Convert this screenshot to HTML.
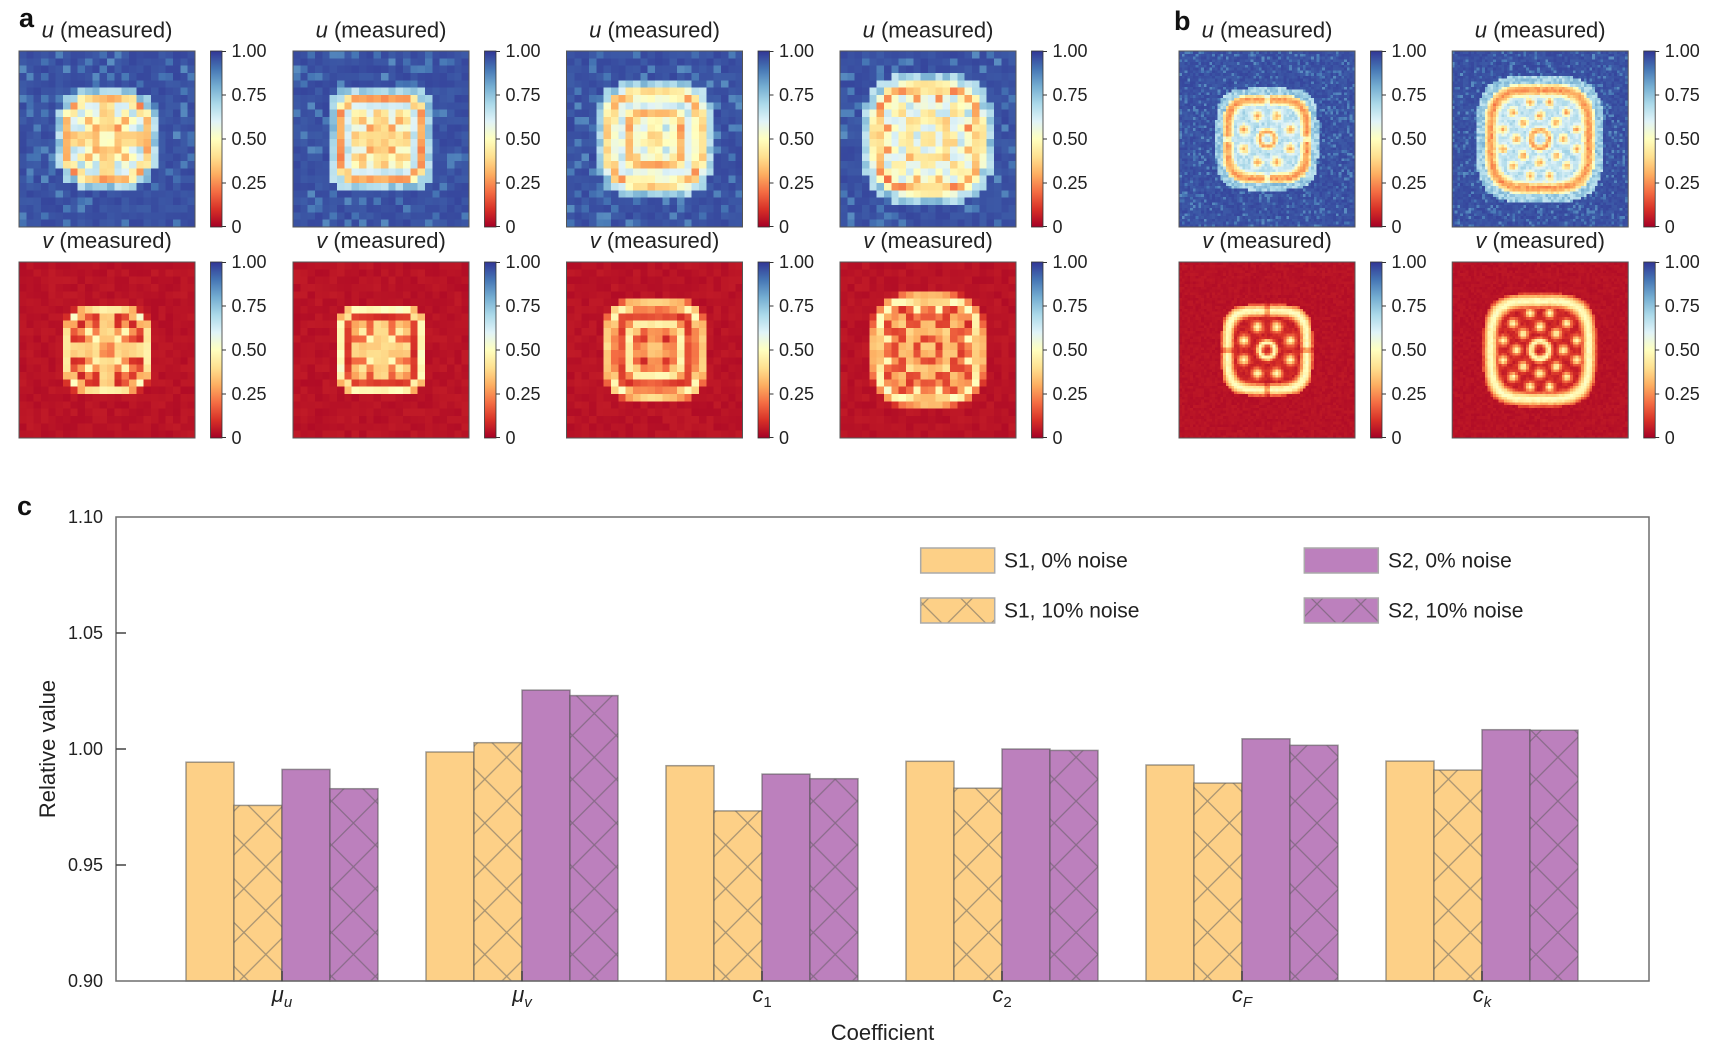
<!DOCTYPE html>
<html><head><meta charset="utf-8">
<style>
html,body{margin:0;padding:0;background:#fff;}
body{width:1719px;height:1058px;position:relative;overflow:hidden;font-family:"Liberation Sans",sans-serif;}
canvas{position:absolute;width:176px;height:176px;image-rendering:pixelated;}
svg{position:absolute;left:0;top:0;}
</style></head><body>
<canvas id="a1u" width="24" height="24" style="left:19px;top:51px"></canvas>
<canvas id="a2u" width="24" height="24" style="left:293px;top:51px"></canvas>
<canvas id="a3u" width="24" height="24" style="left:566.5px;top:51px"></canvas>
<canvas id="a4u" width="24" height="24" style="left:840px;top:51px"></canvas>
<canvas id="b1u" width="64" height="64" style="left:1179px;top:51px"></canvas>
<canvas id="b2u" width="64" height="64" style="left:1452.2px;top:51px"></canvas>
<canvas id="a1v" width="24" height="24" style="left:19px;top:262px"></canvas>
<canvas id="a2v" width="24" height="24" style="left:293px;top:262px"></canvas>
<canvas id="a3v" width="24" height="24" style="left:566.5px;top:262px"></canvas>
<canvas id="a4v" width="24" height="24" style="left:840px;top:262px"></canvas>
<canvas id="b1v" width="64" height="64" style="left:1179px;top:262px"></canvas>
<canvas id="b2v" width="64" height="64" style="left:1452.2px;top:262px"></canvas>

<svg width="1719" height="1058" viewBox="0 0 1719 1058" font-family="Liberation Sans, sans-serif" fill="#222">
<defs>
<linearGradient id="cm" x1="0" y1="1" x2="0" y2="0">
<stop offset="0" stop-color="#a50026"/><stop offset="0.1" stop-color="#d73027"/><stop offset="0.2" stop-color="#f46d43"/><stop offset="0.3" stop-color="#fdae61"/><stop offset="0.4" stop-color="#fee090"/><stop offset="0.5" stop-color="#ffffbf"/><stop offset="0.6" stop-color="#e0f3f8"/><stop offset="0.7" stop-color="#abd9e9"/><stop offset="0.8" stop-color="#74add1"/><stop offset="0.9" stop-color="#4575b4"/><stop offset="1" stop-color="#313695"/>
</linearGradient>
<pattern id="hy" patternUnits="userSpaceOnUse" width="43.8" height="43.8" x="24.9" y="12.7">
<rect width="43.8" height="43.8" fill="#FDD087"/>
<path d="M-2,-2L45.8,45.8M45.8,-2L-2,45.8" stroke="rgba(95,95,95,0.55)" stroke-width="1.3" fill="none"/>
</pattern>
<pattern id="hp" patternUnits="userSpaceOnUse" width="43.8" height="43.8" x="24.9" y="12.7">
<rect width="43.8" height="43.8" fill="#BC80BD"/>
<path d="M-2,-2L45.8,45.8M45.8,-2L-2,45.8" stroke="rgba(85,85,85,0.5)" stroke-width="1.3" fill="none"/>
</pattern>
</defs>

<!-- panel letters -->
<text x="19" y="27" font-size="27" font-weight="bold" fill="#111">a</text>
<text x="1174" y="30" font-size="27" font-weight="bold" fill="#111">b</text>
<text x="17" y="515" font-size="27" font-weight="bold" fill="#111">c</text>

<!-- heatmap frames -->
<g fill="none" stroke="#555" stroke-width="1">
<rect x="19" y="51" width="176" height="176"/><rect x="293" y="51" width="176" height="176"/><rect x="566.5" y="51" width="176" height="176"/><rect x="840" y="51" width="176" height="176"/><rect x="1179" y="51" width="176" height="176"/><rect x="1452.2" y="51" width="176" height="176"/>
<rect x="19" y="262" width="176" height="176"/><rect x="293" y="262" width="176" height="176"/><rect x="566.5" y="262" width="176" height="176"/><rect x="840" y="262" width="176" height="176"/><rect x="1179" y="262" width="176" height="176"/><rect x="1452.2" y="262" width="176" height="176"/>
</g>

<!-- titles -->
<g font-size="22" text-anchor="middle" fill="#222">
<text x="107" y="37.5"><tspan font-style="italic">u</tspan> (measured)</text>
<text x="381" y="37.5"><tspan font-style="italic">u</tspan> (measured)</text>
<text x="654.5" y="37.5"><tspan font-style="italic">u</tspan> (measured)</text>
<text x="928" y="37.5"><tspan font-style="italic">u</tspan> (measured)</text>
<text x="1267" y="37.5"><tspan font-style="italic">u</tspan> (measured)</text>
<text x="1540.2" y="37.5"><tspan font-style="italic">u</tspan> (measured)</text>
<text x="107" y="248"><tspan font-style="italic">v</tspan> (measured)</text>
<text x="381" y="248"><tspan font-style="italic">v</tspan> (measured)</text>
<text x="654.5" y="248"><tspan font-style="italic">v</tspan> (measured)</text>
<text x="928" y="248"><tspan font-style="italic">v</tspan> (measured)</text>
<text x="1267" y="248"><tspan font-style="italic">v</tspan> (measured)</text>
<text x="1540.2" y="248"><tspan font-style="italic">v</tspan> (measured)</text>
</g>

<!-- colorbars -->
<g font-size="18" fill="#222">
<g transform="translate(210.5,51)"><rect width="11.5" height="176" fill="url(#cm)" stroke="#333" stroke-width="0.8"/><path d="M11.5 0.5h4M11.5 44h4M11.5 88h4M11.5 132h4M11.5 175.5h4" stroke="#333" stroke-width="1"/><text x="21" y="0" dominant-baseline="central">1.00</text><text x="21" y="44" dominant-baseline="central">0.75</text><text x="21" y="88" dominant-baseline="central">0.50</text><text x="21" y="132" dominant-baseline="central">0.25</text><text x="21" y="176" dominant-baseline="central">0</text></g>
<g transform="translate(484.5,51)"><rect width="11.5" height="176" fill="url(#cm)" stroke="#333" stroke-width="0.8"/><path d="M11.5 0.5h4M11.5 44h4M11.5 88h4M11.5 132h4M11.5 175.5h4" stroke="#333" stroke-width="1"/><text x="21" y="0" dominant-baseline="central">1.00</text><text x="21" y="44" dominant-baseline="central">0.75</text><text x="21" y="88" dominant-baseline="central">0.50</text><text x="21" y="132" dominant-baseline="central">0.25</text><text x="21" y="176" dominant-baseline="central">0</text></g>
<g transform="translate(758,51)"><rect width="11.5" height="176" fill="url(#cm)" stroke="#333" stroke-width="0.8"/><path d="M11.5 0.5h4M11.5 44h4M11.5 88h4M11.5 132h4M11.5 175.5h4" stroke="#333" stroke-width="1"/><text x="21" y="0" dominant-baseline="central">1.00</text><text x="21" y="44" dominant-baseline="central">0.75</text><text x="21" y="88" dominant-baseline="central">0.50</text><text x="21" y="132" dominant-baseline="central">0.25</text><text x="21" y="176" dominant-baseline="central">0</text></g>
<g transform="translate(1031.5,51)"><rect width="11.5" height="176" fill="url(#cm)" stroke="#333" stroke-width="0.8"/><path d="M11.5 0.5h4M11.5 44h4M11.5 88h4M11.5 132h4M11.5 175.5h4" stroke="#333" stroke-width="1"/><text x="21" y="0" dominant-baseline="central">1.00</text><text x="21" y="44" dominant-baseline="central">0.75</text><text x="21" y="88" dominant-baseline="central">0.50</text><text x="21" y="132" dominant-baseline="central">0.25</text><text x="21" y="176" dominant-baseline="central">0</text></g>
<g transform="translate(1370.5,51)"><rect width="11.5" height="176" fill="url(#cm)" stroke="#333" stroke-width="0.8"/><path d="M11.5 0.5h4M11.5 44h4M11.5 88h4M11.5 132h4M11.5 175.5h4" stroke="#333" stroke-width="1"/><text x="21" y="0" dominant-baseline="central">1.00</text><text x="21" y="44" dominant-baseline="central">0.75</text><text x="21" y="88" dominant-baseline="central">0.50</text><text x="21" y="132" dominant-baseline="central">0.25</text><text x="21" y="176" dominant-baseline="central">0</text></g>
<g transform="translate(1643.7,51)"><rect width="11.5" height="176" fill="url(#cm)" stroke="#333" stroke-width="0.8"/><path d="M11.5 0.5h4M11.5 44h4M11.5 88h4M11.5 132h4M11.5 175.5h4" stroke="#333" stroke-width="1"/><text x="21" y="0" dominant-baseline="central">1.00</text><text x="21" y="44" dominant-baseline="central">0.75</text><text x="21" y="88" dominant-baseline="central">0.50</text><text x="21" y="132" dominant-baseline="central">0.25</text><text x="21" y="176" dominant-baseline="central">0</text></g>

<g transform="translate(210.5,262)"><rect width="11.5" height="176" fill="url(#cm)" stroke="#333" stroke-width="0.8"/><path d="M11.5 0.5h4M11.5 44h4M11.5 88h4M11.5 132h4M11.5 175.5h4" stroke="#333" stroke-width="1"/><text x="21" y="0" dominant-baseline="central">1.00</text><text x="21" y="44" dominant-baseline="central">0.75</text><text x="21" y="88" dominant-baseline="central">0.50</text><text x="21" y="132" dominant-baseline="central">0.25</text><text x="21" y="176" dominant-baseline="central">0</text></g>
<g transform="translate(484.5,262)"><rect width="11.5" height="176" fill="url(#cm)" stroke="#333" stroke-width="0.8"/><path d="M11.5 0.5h4M11.5 44h4M11.5 88h4M11.5 132h4M11.5 175.5h4" stroke="#333" stroke-width="1"/><text x="21" y="0" dominant-baseline="central">1.00</text><text x="21" y="44" dominant-baseline="central">0.75</text><text x="21" y="88" dominant-baseline="central">0.50</text><text x="21" y="132" dominant-baseline="central">0.25</text><text x="21" y="176" dominant-baseline="central">0</text></g>
<g transform="translate(758,262)"><rect width="11.5" height="176" fill="url(#cm)" stroke="#333" stroke-width="0.8"/><path d="M11.5 0.5h4M11.5 44h4M11.5 88h4M11.5 132h4M11.5 175.5h4" stroke="#333" stroke-width="1"/><text x="21" y="0" dominant-baseline="central">1.00</text><text x="21" y="44" dominant-baseline="central">0.75</text><text x="21" y="88" dominant-baseline="central">0.50</text><text x="21" y="132" dominant-baseline="central">0.25</text><text x="21" y="176" dominant-baseline="central">0</text></g>
<g transform="translate(1031.5,262)"><rect width="11.5" height="176" fill="url(#cm)" stroke="#333" stroke-width="0.8"/><path d="M11.5 0.5h4M11.5 44h4M11.5 88h4M11.5 132h4M11.5 175.5h4" stroke="#333" stroke-width="1"/><text x="21" y="0" dominant-baseline="central">1.00</text><text x="21" y="44" dominant-baseline="central">0.75</text><text x="21" y="88" dominant-baseline="central">0.50</text><text x="21" y="132" dominant-baseline="central">0.25</text><text x="21" y="176" dominant-baseline="central">0</text></g>
<g transform="translate(1370.5,262)"><rect width="11.5" height="176" fill="url(#cm)" stroke="#333" stroke-width="0.8"/><path d="M11.5 0.5h4M11.5 44h4M11.5 88h4M11.5 132h4M11.5 175.5h4" stroke="#333" stroke-width="1"/><text x="21" y="0" dominant-baseline="central">1.00</text><text x="21" y="44" dominant-baseline="central">0.75</text><text x="21" y="88" dominant-baseline="central">0.50</text><text x="21" y="132" dominant-baseline="central">0.25</text><text x="21" y="176" dominant-baseline="central">0</text></g>
<g transform="translate(1643.7,262)"><rect width="11.5" height="176" fill="url(#cm)" stroke="#333" stroke-width="0.8"/><path d="M11.5 0.5h4M11.5 44h4M11.5 88h4M11.5 132h4M11.5 175.5h4" stroke="#333" stroke-width="1"/><text x="21" y="0" dominant-baseline="central">1.00</text><text x="21" y="44" dominant-baseline="central">0.75</text><text x="21" y="88" dominant-baseline="central">0.50</text><text x="21" y="132" dominant-baseline="central">0.25</text><text x="21" y="176" dominant-baseline="central">0</text></g>
</g>

<!-- panel c bars -->
<g stroke="rgba(80,80,80,0.55)" stroke-width="1.5">
<rect x="186" y="762.2" width="48" height="218.8" fill="#FDD087"/>
<rect x="234" y="805.4" width="48" height="175.6" fill="url(#hy)"/>
<rect x="282" y="769.4" width="48" height="211.6" fill="#BC80BD"/>
<rect x="330" y="788.7" width="48" height="192.3" fill="url(#hp)"/>

<rect x="426" y="752.0" width="48" height="229" fill="#FDD087"/>
<rect x="474" y="742.7" width="48" height="238.3" fill="url(#hy)"/>
<rect x="522" y="690.1" width="48" height="290.9" fill="#BC80BD"/>
<rect x="570" y="695.6" width="48" height="285.4" fill="url(#hp)"/>

<rect x="666" y="765.7" width="48" height="215.3" fill="#FDD087"/>
<rect x="714" y="810.9" width="48" height="170.1" fill="url(#hy)"/>
<rect x="762" y="774.1" width="48" height="206.9" fill="#BC80BD"/>
<rect x="810" y="778.7" width="48" height="202.3" fill="url(#hp)"/>

<rect x="906" y="761.3" width="48" height="219.7" fill="#FDD087"/>
<rect x="954" y="788.2" width="48" height="192.8" fill="url(#hy)"/>
<rect x="1002" y="749" width="48" height="232" fill="#BC80BD"/>
<rect x="1050" y="750.4" width="48" height="230.6" fill="url(#hp)"/>

<rect x="1146" y="765.0" width="48" height="216" fill="#FDD087"/>
<rect x="1194" y="783.1" width="48" height="197.9" fill="url(#hy)"/>
<rect x="1242" y="738.8" width="48" height="242.2" fill="#BC80BD"/>
<rect x="1290" y="745.3" width="48" height="235.7" fill="url(#hp)"/>

<rect x="1386" y="761.1" width="48" height="219.9" fill="#FDD087"/>
<rect x="1434" y="770.1" width="48" height="210.9" fill="url(#hy)"/>
<rect x="1482" y="729.7" width="48" height="251.3" fill="#BC80BD"/>
<rect x="1530" y="730.2" width="48" height="250.8" fill="url(#hp)"/>
</g>

<!-- axes -->
<rect x="116" y="517" width="1533" height="464" fill="none" stroke="#6e6e6e" stroke-width="1.5"/>
<path d="M116 633h10M116 749h10M116 865h10M282 981v-10M522 981v-10M762 981v-10M1002 981v-10M1242 981v-10M1482 981v-10" stroke="#444" stroke-width="1.5"/>
<g font-size="18" text-anchor="end" fill="#222">
<text x="103" y="517" dominant-baseline="central">1.10</text>
<text x="103" y="633" dominant-baseline="central">1.05</text>
<text x="103" y="749" dominant-baseline="central">1.00</text>
<text x="103" y="865" dominant-baseline="central">0.95</text>
<text x="103" y="981" dominant-baseline="central">0.90</text>
</g>
<text transform="translate(55,749) rotate(-90)" text-anchor="middle" font-size="22" fill="#222">Relative value</text>
<text x="882.5" y="1040" text-anchor="middle" font-size="22" fill="#222">Coefficient</text>

<g font-size="22" text-anchor="middle" fill="#222">
<text x="282" y="1002"><tspan font-style="italic">μ</tspan><tspan font-size="15" dy="5" font-style="italic">u</tspan></text>
<text x="522" y="1002"><tspan font-style="italic">μ</tspan><tspan font-size="15" dy="5" font-style="italic">v</tspan></text>
<text x="762" y="1002"><tspan font-style="italic">c</tspan><tspan font-size="15" dy="5">1</tspan></text>
<text x="1002" y="1002"><tspan font-style="italic">c</tspan><tspan font-size="15" dy="5">2</tspan></text>
<text x="1242" y="1002"><tspan font-style="italic">c</tspan><tspan font-size="15" dy="5" font-style="italic">F</tspan></text>
<text x="1482" y="1002"><tspan font-style="italic">c</tspan><tspan font-size="15" dy="5" font-style="italic">k</tspan></text>
</g>

<!-- legend -->
<g stroke="#aaa" stroke-width="1.5">
<rect x="920.7" y="548" width="74" height="25" fill="#FDD087"/>
<rect x="920.7" y="598" width="74" height="25" fill="url(#hy)"/>
<rect x="1304.3" y="548" width="74" height="25" fill="#BC80BD"/>
<rect x="1304.3" y="598" width="74" height="25" fill="url(#hp)"/>
</g>
<g font-size="21" fill="#222">
<text x="1004" y="561" dominant-baseline="central">S1, 0% noise</text>
<text x="1004" y="611" dominant-baseline="central">S1, 10% noise</text>
<text x="1388" y="561" dominant-baseline="central">S2, 0% noise</text>
<text x="1388" y="611" dominant-baseline="central">S2, 10% noise</text>
</g>
</svg>

<script>
(function(){
function rng(seed){return function(){seed|=0;seed=seed+0x6D2B79F5|0;var t=Math.imul(seed^seed>>>15,1|seed);t=t+Math.imul(t^t>>>7,61|t)^t;return((t^t>>>14)>>>0)/4294967296;};}
var ST=[[0,165,0,38],[0.1,215,48,39],[0.2,244,109,67],[0.3,253,174,97],[0.4,254,224,144],[0.5,255,255,191],[0.6,224,243,248],[0.7,171,217,233],[0.8,116,173,209],[0.9,69,117,180],[1,49,54,149]];
function cm(t){t=Math.max(0,Math.min(1,t));for(var k=1;k<ST.length;k++){if(t<=ST[k][0]+1e-9){var a=ST[k-1],b=ST[k],f=(t-a[0])/(b[0]-a[0]);return[a[1]+(b[1]-a[1])*f,a[2]+(b[2]-a[2])*f,a[3]+(b[3]-a[3])*f];}}return[49,54,149];}
function g(z,w){return Math.exp(-(z*z)/(w*w));}
function spots(x,y,R,n,off,sig){var m=0;for(var k=0;k<n;k++){var a=off+2*Math.PI*k/n;var dx=x-R*Math.cos(a),dy=y-R*Math.sin(a);m=Math.max(m,Math.exp(-(dx*dx+dy*dy)/(sig*sig)));}return m;}
var P={
 star:function(x,y,rho){if(rho<0.12)return 0.25;var a=Math.max(g(x,0.15),g(y,0.15),g(Math.abs(x)-Math.abs(y),0.17));return 0.1+0.38*a*(rho<0.78?1:0);},
 grid:function(x,y,rho){var a=Math.max(g(x,0.14)*(rho<0.6?1:0),g(y,0.14)*(rho<0.6?1:0),spots(x,y,0.62,4,Math.PI/4,0.18),spots(x,y,0.35,4,Math.PI/4,0.14));return 0.1+0.37*a;},
 ring:function(x,y,rho){var q=Math.pow(Math.pow(Math.abs(x),4)+Math.pow(Math.abs(y),4),0.25);var a=Math.max(g(q-0.5,0.11),g(rho,0.15),spots(x,y,0.28,4,0,0.11));return 0.1+0.36*a;},
 spots:function(x,y,rho){var a=Math.max(spots(x,y,0.38,8,0,0.13),spots(x,y,0.7,12,Math.PI/12,0.11),g(rho,0.13));return 0.1+0.38*a;},
 b1:function(x,y,rho){var a=Math.max(g(rho-0.17,0.065),spots(x,y,0.56,8,Math.PI/8,0.11));return 0.07+0.42*a;},
 b2:function(x,y,rho){var a=Math.max(g(rho-0.16,0.06),spots(x,y,0.42,8,0,0.085),spots(x,y,0.68,12,Math.PI/12,0.08));return 0.07+0.42*a;}
};
function draw(id,N,s,p,pat,seed,kind,nz,notch,rw){
 var c=document.getElementById(id);if(!c)return;var ctx=c.getContext('2d'),img=ctx.createImageData(N,N),R=rng(seed),d=img.data;
 for(var j=0;j<N;j++)for(var i=0;i<N;i++){
  var x=((i+0.5)/N-0.5)/s,y=((j+0.5)/N-0.5)/s;
  var r=Math.pow(Math.pow(Math.abs(x),p)+Math.pow(Math.abs(y),p),1/p),rho=Math.sqrt(x*x+y*y);
  var n1=(R()-0.5)*2*nz,n2=R(),n3=R(),n4=R();
  var v;
  if(r>1.02){v=0.025+Math.abs(n1)*0.5;}
  else{var rim=0.5*g(r-0.88,rw);if(notch){rim*=(1-0.7*g(x,0.04))*(1-0.7*g(y,0.04));}
   var inn=r<0.8?P[pat](x,y,rho):0.07;v=Math.max(rim,inn)+n1*0.5;}
  var u;
  if(r>1.14){u=0.975-(n2<0.14?0.06+n3*0.06:n3*0.035);}
  else if(r>0.99){u=0.72+(n3-0.5)*0.14;}
  else{u=0.74-0.95*v+(n4-0.5)*0.08;}
  var val=kind==='u'?u:v;var col=cm(val);var o=(j*N+i)*4;
  d[o]=col[0];d[o+1]=col[1];d[o+2]=col[2];d[o+3]=255;
 }
 ctx.putImageData(img,0,0);
}
var cfg=[
 ['a1',24,0.25,4,'star',11,0.06,false,0.1],
 ['a2',24,0.265,4,'grid',22,0.06,false,0.1],
 ['a3',24,0.29,4,'ring',33,0.06,false,0.1],
 ['a4',24,0.33,3,'spots',44,0.06,false,0.1],
 ['b1',64,0.255,4,'b1',55,0.05,true,0.13],
 ['b2',64,0.317,3.6,'b2',66,0.05,false,0.12]
];
for(var k=0;k<cfg.length;k++){var q=cfg[k];
 draw(q[0]+'u',q[1],q[2],q[3],q[4],q[5],'u',q[6],q[7],q[8]);
 draw(q[0]+'v',q[1],q[2],q[3],q[4],q[5],'v',q[6],q[7],q[8]);
}
})();
</script>
</body></html>
